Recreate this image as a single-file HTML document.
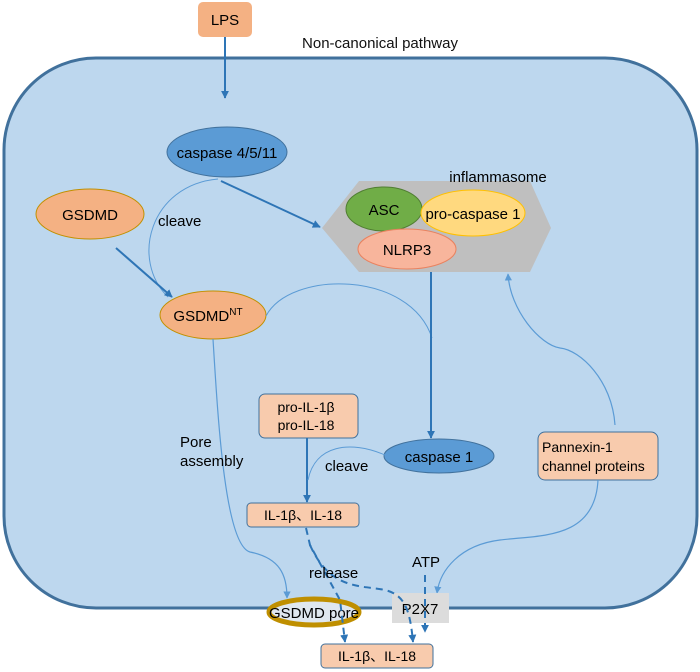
<!DOCTYPE html>
<html><head><meta charset="utf-8"><style>
html,body{margin:0;padding:0;background:#fff;}
svg{display:block;font-family:"Liberation Sans","Noto Sans CJK SC",sans-serif;}
</style></head><body>
<svg width="700" height="672" viewBox="0 0 700 672" xmlns="http://www.w3.org/2000/svg">
<defs>
<marker id="a" viewBox="0 0 10 10" refX="9" refY="5" markerWidth="4" markerHeight="4" orient="auto"><path d="M0,0L10,5L0,10z" fill="#2e75b6"/></marker>
<marker id="b" viewBox="0 0 10 10" refX="9" refY="5" markerWidth="6" markerHeight="6" orient="auto"><path d="M0,0L10,5L0,10z" fill="#5b9bd5"/></marker>
</defs>
<rect x="4" y="58" width="693" height="550" rx="92" ry="92" fill="#bdd7ee" stroke="#41719c" stroke-width="3"/>
<text x="380" y="48" font-size="15" text-anchor="middle" fill="#111">Non-canonical pathway</text>
<rect x="198" y="2" width="54" height="35" rx="5" fill="#f4b183"/>
<text x="225" y="25" font-size="15" text-anchor="middle">LPS</text>
<line x1="225" y1="37" x2="225" y2="98" stroke="#2e75b6" stroke-width="2" marker-end="url(#a)"/>
<ellipse cx="227" cy="152" rx="60" ry="25" fill="#5b9bd5" stroke="#41719c"/>
<text x="227" y="158" font-size="15" text-anchor="middle">caspase 4/5/11</text>
<ellipse cx="90" cy="214" rx="54" ry="25" fill="#f4b183" stroke="#c09000"/>
<text x="90" y="220" font-size="15" text-anchor="middle">GSDMD</text>
<path d="M218,179 C150,185 130,260 168,297" fill="none" stroke="#5b9bd5" stroke-width="1"/>
<text x="158" y="226" font-size="15">cleave</text>
<line x1="116" y1="248" x2="172" y2="297" stroke="#2e75b6" stroke-width="2" marker-end="url(#a)"/>
<line x1="221" y1="181" x2="320" y2="227" stroke="#2e75b6" stroke-width="2" marker-end="url(#a)"/>
<polygon points="322,228 359,181 530,181 551,228 530,272 359,272" fill="#bfbfbf"/>
<text x="498" y="182" font-size="15" text-anchor="middle">inflammasome</text>
<ellipse cx="384" cy="209" rx="38" ry="22" fill="#70ad47" stroke="#507e32"/>
<text x="384" y="215" font-size="15" text-anchor="middle">ASC</text>
<ellipse cx="473" cy="213" rx="52" ry="23" fill="#ffd97f" stroke="#ffc000"/>
<text x="473" y="219" font-size="15" text-anchor="middle">pro-caspase 1</text>
<ellipse cx="407" cy="249" rx="49" ry="20" fill="#f8b59c" stroke="#e9825f"/>
<text x="407" y="255" font-size="15" text-anchor="middle">NLRP3</text>
<ellipse cx="213" cy="315" rx="53" ry="24" fill="#f4b183" stroke="#c09000"/>
<text x="208" y="321" font-size="15" text-anchor="middle">GSDMD<tspan font-size="10" dy="-6">NT</tspan></text>
<path d="M266,316 C290,270 410,270 432,338" fill="none" stroke="#5b9bd5" stroke-width="1"/>
<line x1="431" y1="272" x2="431" y2="438" stroke="#2e75b6" stroke-width="2" marker-end="url(#a)"/>
<ellipse cx="439" cy="456" rx="55" ry="17" fill="#5b9bd5" stroke="#41719c"/>
<text x="439" y="462" font-size="15" text-anchor="middle">caspase 1</text>
<path d="M213,339 C218,420 225,545 250,552 C280,558 287,575 287,598" fill="none" stroke="#5b9bd5" stroke-width="1.2" marker-end="url(#b)"/>
<text x="180" y="447" font-size="15">Pore</text>
<text x="180" y="466" font-size="15">assembly</text>
<rect x="259" y="394" width="99" height="44" rx="6" fill="#f8cbad" stroke="#41719c"/>
<text x="306" y="412" font-size="14" text-anchor="middle">pro-IL-1β</text>
<text x="306" y="430" font-size="14" text-anchor="middle">pro-IL-18</text>
<line x1="307" y1="438" x2="307" y2="502" stroke="#2e75b6" stroke-width="2" marker-end="url(#a)"/>
<path d="M385,455 C350,440 315,445 308,480" fill="none" stroke="#5b9bd5" stroke-width="1"/>
<text x="325" y="471" font-size="15">cleave</text>
<rect x="247" y="503" width="112" height="24" rx="4" fill="#f8cbad" stroke="#41719c"/>
<text x="303" y="520" font-size="14" text-anchor="middle">IL-1β、IL-18</text>
<rect x="538" y="432" width="120" height="48" rx="7" fill="#f8cbad" stroke="#41719c"/>
<text x="542" y="452" font-size="14">Pannexin-1</text>
<text x="542" y="471" font-size="14">channel proteins</text>
<path d="M615,425 C612,380 580,350 560,348 C540,345 510,310 508,274" fill="none" stroke="#5b9bd5" stroke-width="1.2" marker-end="url(#b)"/>
<path d="M598,480 C595,540 540,535 500,540 C460,545 440,570 437,593" fill="none" stroke="#5b9bd5" stroke-width="1.2" marker-end="url(#b)"/>
<rect x="392" y="593" width="57" height="30" fill="#dcdcdc"/>
<text x="420" y="614" font-size="15" text-anchor="middle">P2X7</text>
<ellipse cx="314" cy="612" rx="45" ry="13" fill="#dfe7ef" stroke="#bf8f00" stroke-width="5"/>
<text x="314" y="618" font-size="15" text-anchor="middle">GSDMD pore</text>
<path d="M306,528 L310,545 L340,600 L345,642" fill="none" stroke="#2e75b6" stroke-width="2" stroke-dasharray="7,5" marker-end="url(#a)"/>
<path d="M310,545 C330,590 360,585 385,590 C405,595 410,610 413,642" fill="none" stroke="#2e75b6" stroke-width="2" stroke-dasharray="7,5" marker-end="url(#a)"/>
<line x1="425" y1="575" x2="425" y2="632" stroke="#2e75b6" stroke-width="2" stroke-dasharray="7,5" marker-end="url(#a)"/>
<text x="309" y="578" font-size="15">release</text>
<text x="426" y="567" font-size="15" text-anchor="middle">ATP</text>
<rect x="321" y="644" width="112" height="24" rx="4" fill="#f8cbad" stroke="#41719c"/>
<text x="377" y="661" font-size="14" text-anchor="middle">IL-1β、IL-18</text>
</svg>
</body></html>
